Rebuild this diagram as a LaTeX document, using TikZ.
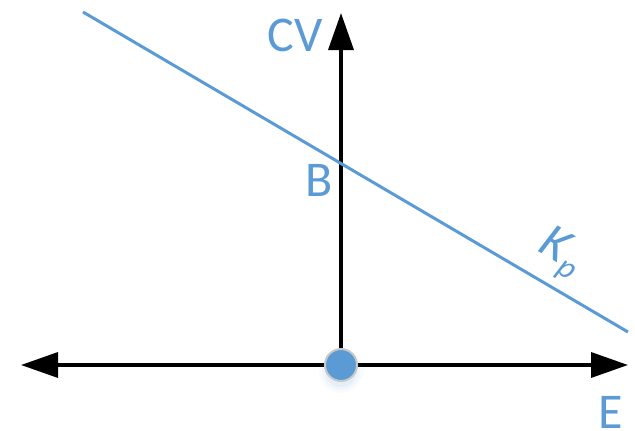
\documentclass[tikz,border=0pt]{standalone}
\usepackage{fontspec}
\setmainfont{Carlito}
\usetikzlibrary{arrows.meta}
\definecolor{cblue}{HTML}{5B9BD5}
\definecolor{cgrey}{HTML}{C8C8C8}
\begin{document}
\begin{tikzpicture}[x=1pt,y=-1pt,
  axis/.style={line width=3.5pt,black,-{Triangle[length=37pt,width=25pt]}},
  kline/.style={line width=3pt,cblue},
  lbl/.style={text=cblue,font=\fontsize{50}{60}\selectfont,inner sep=0pt},
  dot/.style={circle,fill=cblue,draw=cgrey,line width=2pt,minimum size=32pt,inner sep=0pt}]
\useasboundingbox (0,0) rectangle (635,431);
\coordinate (L) at (21,365);
\coordinate (R) at (628,365);
\coordinate (O) at (341,365);
\coordinate (T) at (341,13);
\coordinate (P1) at (83,12);
\coordinate (P2) at (628,332);
\draw[axis] (O) -- (L);
\draw[axis] (O) -- (R);
\draw[axis] (O) -- (T);
\draw[kline] (P1) -- (P2);
\foreach \r/\o in {22/0.04,19/0.06,16/0.08}
  \fill[cblue,opacity=\o] (341,371) circle (\r);
\node[dot] (D) at (O) {};
\node[lbl] (CV) at (295,35) {CV};
\node[lbl] (B) at (319,180) {B};
\node[lbl] (E) at (611,412) {E};
\node[lbl,rotate=-30.5,anchor=center] (K) at (560,254) {\textit{K}\raisebox{-9pt}{\fontsize{32}{36}\selectfont\textit{p}}};
\end{tikzpicture}
\end{document}
